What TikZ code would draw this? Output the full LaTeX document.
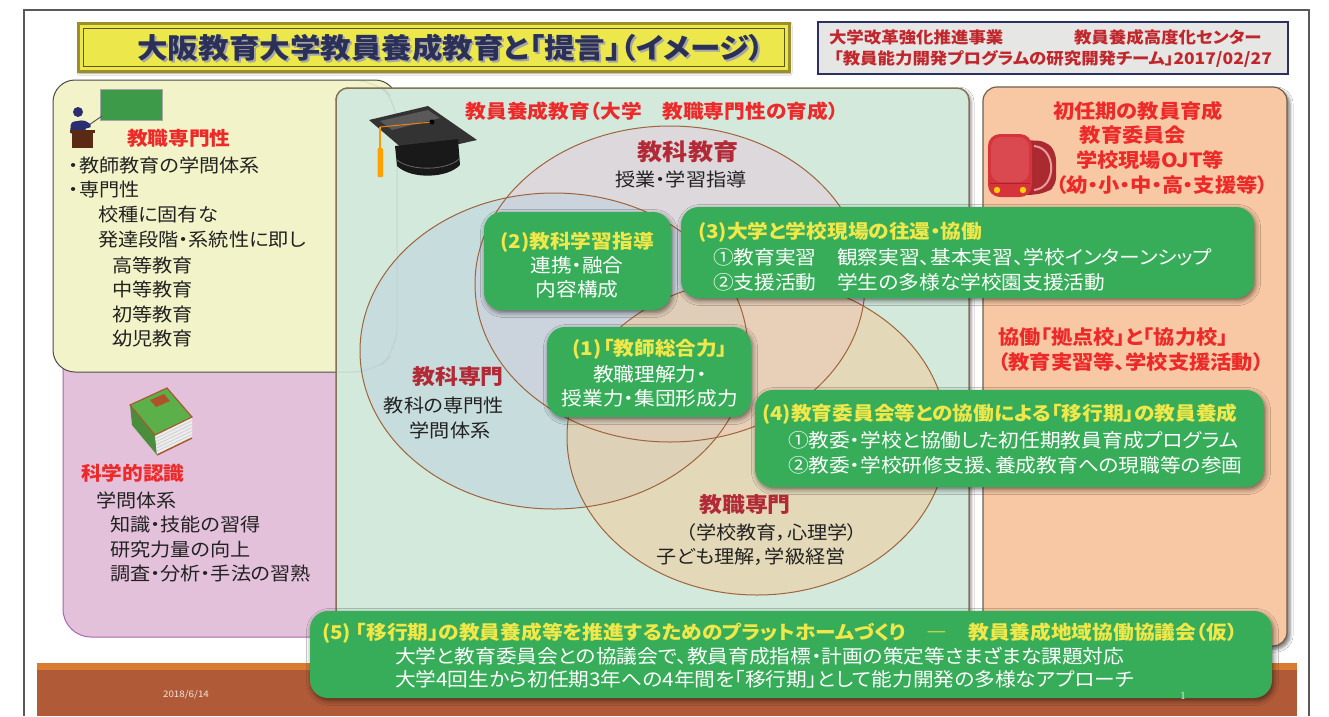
\documentclass[tikz,border=0pt]{standalone}
\usepackage{fontspec}
\usetikzlibrary{shadows.blur}
\newfontfamily\jp[RawFeature=+palt, FakeStretch=1.09]{Noto Sans CJK JP}
\newcommand\fsz[1]{\fontsize{#1}{#1}\selectfont}

\definecolor{pagebrown}{HTML}{B05A38}
\definecolor{pageorange}{HTML}{D97B30}
\definecolor{titleyellow}{HTML}{ECE84C}
\definecolor{titleedge}{HTML}{9C8E2A}
\definecolor{titletext}{HTML}{2B3058}
\definecolor{noteedge}{HTML}{2A3060}
\definecolor{notefill}{HTML}{E6E6E4}
\definecolor{notered}{HTML}{C0272D}
\definecolor{creamfill}{HTML}{F3F3C9}
\definecolor{pinkfill}{HTML}{E3C1DB}
\definecolor{pinkedge}{HTML}{A868B0}
\definecolor{mintfill}{HTML}{D3E9DC}
\definecolor{mintedge}{HTML}{857357}
\definecolor{peachfill}{HTML}{F8C8A4}
\definecolor{peachedge}{HTML}{6E6050}
\definecolor{hotred}{HTML}{EC2A2A}
\definecolor{darkred}{HTML}{B22A36}
\definecolor{boxgreen}{HTML}{37AD5A}
\definecolor{boxyellow}{HTML}{F0E84A}
\definecolor{inkblack}{HTML}{222222}
\definecolor{venna}{RGB}{230,200,220}
\definecolor{vennb}{RGB}{188,208,220}
\definecolor{vennc}{RGB}{244,200,148}
\definecolor{vennedge}{HTML}{A0643C}
\definecolor{navyman}{HTML}{2A2E70}
\definecolor{podium}{HTML}{5A2A14}
\definecolor{boardgreen}{HTML}{3C9A48}
\definecolor{bagred}{HTML}{D6343C}
\definecolor{bookgreen}{HTML}{5CB04A}
\definecolor{bookedge}{HTML}{A65A30}

\tikzset{
  every node/.style={inner sep=0pt, outer sep=0pt},
  bodytext/.style={font=\jp\fsz{18.5}, text=inkblack},
  redhead/.style={font=\jp\bfseries\fsz{19}, text=hotred},
  vennhead/.style={font=\jp\bfseries\fsz{21}, text=darkred},
  sidered/.style={font=\jp\bfseries\fsz{19.5}, text=hotred},
  boxtitle/.style={font=\jp\bfseries\fsz{19}, text=boxyellow},
  boxline/.style={font=\jp\fsz{19}, text=white},
  greenbox/.style={fill=boxgreen, rounded corners=18pt,
    blur shadow={shadow xshift=1.5pt, shadow yshift=-2.5pt,
                 shadow blur radius=5pt, shadow opacity=55}},
  venn/.style={fill opacity=0.5},
  vennline/.style={draw=vennedge, line width=1},
}

\begin{document}
\begin{tikzpicture}[x=1pt, y=-1pt]
\useasboundingbox (0,0) rectangle (1329,716);
\fill[white] (0,0) rectangle (1329,716);

% slide frame and footer band
\draw[gray!70!black, line width=1.2] (24,716) -- (24,10) -- (1309,10) -- (1309,716);
\fill[pageorange] (37,663) rectangle (1297,670);
\fill[pagebrown] (37,670) rectangle (1297,716);
\node[font=\jp\fsz{9}, text=white!85!pagebrown] (date) at (186,695) {2018/6/14};

% title banner
\draw[titleedge, line width=3, fill=titleyellow,
      blur shadow={shadow xshift=1pt, shadow yshift=-2pt, shadow blur radius=2pt, shadow opacity=40}]
  (78,23) rectangle (789,71);
\draw[titleedge!60!black, line width=0.8] (83,28) rectangle (784,66);
\node[font=\jp\bfseries\fsz{28}, text=black!35] (titleshade) at (453,49.5)
  {大阪教育大学教員養成教育と「提言」（イメージ）};
\node[font=\jp\bfseries\fsz{28}, text=titletext] (title) at (451,47.5)
  {大阪教育大学教員養成教育と「提言」（イメージ）};

% project note
\draw[noteedge, line width=1.5, fill=notefill] (818,22) rectangle (1288,74);
\node[font=\jp\bfseries\fsz{16}, text=notered, anchor=west] (notea) at (829,37) {大学改革強化推進事業};
\node[font=\jp\bfseries\fsz{16}, text=notered, anchor=west] (noteb) at (1074,37) {教員養成高度化センター};
\node[font=\jp\bfseries\fsz{16}, text=notered, anchor=west] (notec) at (834,59) {「教員能力開発プログラムの研究開発チーム」2017/02/27};

% left panels
\draw[pinkedge, line width=1, fill=pinkfill, rounded corners=28] (63,300) rectangle (345,637);
\draw[gray!60!black, line width=1, fill=creamfill, rounded corners=22] (53,80) rectangle (397,372);

% centre panel
\draw[mintedge, line width=1.5, fill=mintfill, rounded corners=12,
      blur shadow={shadow xshift=2pt, shadow yshift=-2pt, shadow blur radius=3pt, shadow opacity=45}]
  (336,88) rectangle (969,640);
\draw[gray, opacity=0.18, line width=1, rounded corners=22] (336,80) -- (375,80) -- (397,102) -- (397,350) -- (375,372) -- (336,372);

% right panel
\draw[peachedge, line width=1.2, fill=peachfill, rounded corners=14,
      blur shadow={shadow xshift=3pt, shadow yshift=-3pt, shadow blur radius=3pt, shadow opacity=50}]
  (983,87) rectangle (1287,646);

% three overlapping areas
\fill[venna, venn] (670,284) ellipse [x radius=195, y radius=158];
\fill[vennb, venn] (554,351) ellipse [x radius=194, y radius=158];
\fill[vennc, venn] (757,437) ellipse [x radius=190, y radius=158];
\draw[vennline] (670,284) ellipse [x radius=195, y radius=158];
\draw[vennline] (554,351) ellipse [x radius=194, y radius=158];
\draw[vennline] (757,437) ellipse [x radius=190, y radius=158];

% teacher at the blackboard
\draw[gray!70, line width=1, fill=boardgreen] (100,89) rectangle (162,120);
\draw[gray!70!black, line width=1] (86,127) -- (102,116);
\fill[navyman] (78,112) circle (5);
\fill[navyman, rounded corners=3] (70,134) -- (71,122) -- (84,120) -- (92,125) -- (89,129) -- (85,127) -- (86,134) -- cycle;
\fill[podium] (70,130) rectangle (95,133);
\fill[podium] (72,133) rectangle (93,148);

% mortarboard
\fill[black!80] (369,120) -- (428,106) -- (477,140) -- (410,155) -- cycle;
\fill[black!55, opacity=0.6] (380,121) -- (428,110) -- (440,118) -- (392,130) -- cycle;
\fill[black!90] (395,146) -- (397,166) .. controls (412,180) and (448,178) .. (460,165) -- (458,139) -- cycle;
\draw[black!60, line width=0.8] (397,160) .. controls (412,172) and (448,170) .. (459,159);
\draw[orange!70!brown, line width=1] (380,127) -- (432,122);
\fill[black] (432,122) circle (2.5);
\draw[orange!80!yellow, line width=1.3] (380,127) -- (380,150);
\fill[orange!75!yellow, rounded corners=1] (377.5,148) rectangle (383,177);

% book
\fill[bookgreen!80!black] (130,405) -- (155,435) -- (157,455) -- (132,425) -- cycle;
\fill[gray!15] (155,435) -- (192,417) -- (192,438) -- (157,455) -- cycle;
\foreach \k in {1,...,5} \draw[gray!50, line width=0.4] (156,{435+3.3*\k}) -- (192,{417+3.5*\k});
\draw[bookedge, line width=1.2, fill=bookgreen] (130,405) -- (167,388) -- (192,417) -- (155,435) -- cycle;
\draw[bookedge, line width=1.5] (157,455) -- (192,438);
\fill[bookedge!90!red] (150,400) -- (164,394) -- (170,401) -- (156,407) -- cycle;

% school bag (randoseru)
\fill[bagred!80!black, rounded corners=8] (1020,140) -- (1046,141) -- (1056,152) -- (1056,186) -- (1046,193) -- (1022,196) -- cycle;
\draw[bagred!50!white, line width=2] (1034,146) .. controls (1057,148) and (1057,188) .. (1034,190);
\fill[bagred, rounded corners=12] (988,134) rectangle (1032,197);
\fill[bagred!90!white, rounded corners=10] (991,137) -- (1029,137) -- (1029,182) -- (991,182) -- cycle;
\draw[bagred!75!black, line width=0.8] (990,183) -- (1030,183);
\fill[yellow!70!orange] (997,190) circle (3.2);
\fill[yellow!70!orange] (1023,190) circle (3.2);

% left panel text
\node[redhead, anchor=west] (kyoshoku) at (127,138) {教職専門性};
\node[bodytext, anchor=west] (l1) at (69,165) {・教師教育の学問体系};
\node[bodytext, anchor=west] (l2) at (69,189) {・専門性};
\node[bodytext, anchor=west] (l3) at (98,214) {校種に固有な};
\node[bodytext, anchor=west] (l4) at (98,240) {発達段階・系統性に即し};
\node[bodytext, anchor=west] (l5) at (112,265) {高等教育};
\node[bodytext, anchor=west] (l6) at (112,289) {中等教育};
\node[bodytext, anchor=west] (l7) at (112,314) {初等教育};
\node[bodytext, anchor=west] (l8) at (112,338) {幼児教育};

\node[redhead, anchor=west] (kagaku) at (81,473) {科学的認識};
\node[bodytext, anchor=west] (p1) at (96,500) {学問体系};
\node[bodytext, anchor=west] (p2) at (110,524) {知識・技能の習得};
\node[bodytext, anchor=west] (p3) at (110,549) {研究力量の向上};
\node[bodytext, anchor=west] (p4) at (110,574) {調査・分析・手法の習熟};

% centre panel text
\node[font=\jp\bfseries\fsz{19}, text=hotred] (centretitle) at (652,111) {教員養成教育（大学　教職専門性の育成）};
\node[font=\jp\bfseries\fsz{23}, text=darkred] (kyoka) at (688,152) {教科教育};
\node[bodytext] (kyokasub) at (681,179) {授業・学習指導};
\node[vennhead] (senmon) at (458,377) {教科専門};
\node[bodytext] (senmona) at (444,405) {教科の専門性};
\node[bodytext] (senmonb) at (450,430) {学問体系};
\node[vennhead] (shoku) at (745,505) {教職専門};
\node[bodytext] (shokua) at (772,533) {（学校教育，心理学）};
\node[bodytext] (shokub) at (751,557) {子ども理解，学級経営};

% right panel text
\node[sidered] (r1) at (1138,111) {初任期の教員育成};
\node[sidered] (r2) at (1133,135) {教育委員会};
\node[sidered] (r3) at (1150,160) {学校現場OJT等};
\node[sidered] (r4) at (1162,185) {（幼・小・中・高・支援等）};
\node[sidered, anchor=west] (r5) at (998,337) {協働「拠点校」と「協力校」};
\node[sidered, anchor=west] (r6) at (998,362) {（教育実習等、学校支援活動）};

% green proposal boxes
\node[greenbox, minimum width=187, minimum height=98] (box2) at (577.5,261) {};
\node[boxtitle] (box2t) at (577,242) {(2)教科学習指導};
\node[boxline] (box2a) at (577,265) {連携・融合};
\node[boxline] (box2b) at (577,289) {内容構成};

\node[greenbox, minimum width=573, minimum height=91] (box3) at (967.5,252.5) {};
\node[boxtitle, anchor=west] (box3t) at (698,232) {(3)大学と学校現場の往還・協働};
\node[boxline, anchor=west] (box3a) at (713,257) {①教育実習　観察実習、基本実習、学校インターンシップ};
\node[boxline, anchor=west] (box3b) at (713,282) {②支援活動　学生の多様な学校園支援活動};

\node[greenbox, minimum width=204, minimum height=90] (box1) at (649,372) {};
\node[boxtitle] (box1t) at (650,349) {(1)\kern1.5pt「教師総合力」};
\node[boxline] (box1a) at (650,374) {教職理解力・};
\node[boxline] (box1b) at (650,398) {授業力・集団形成力};

\node[greenbox, minimum width=509, minimum height=97] (box4) at (1009.5,438.5) {};
\node[boxtitle, anchor=west] (box4t) at (762,414) {(4)教育委員会等との協働による「移行期」の教員養成};
\node[boxline, anchor=west] (box4a) at (788,440) {①教委・学校と協働した初任期教員育成プログラム};
\node[boxline, anchor=west] (box4b) at (788,465) {②教委・学校研修支援、養成教育への現職等の参画};

\node[greenbox, minimum width=962, minimum height=87] (box5) at (791,654.5) {};
\node[boxtitle, anchor=west] (box5t) at (322,633) {(5) 「移行期」の教員養成等を推進するためのプラットホームづくり　―　教員養成地域協働協議会（仮）};
\node[boxline, anchor=west] (box5a) at (395,656) {大学と教育委員会との協議会で、教員育成指標・計画の策定等さまざまな課題対応};
\node[boxline, anchor=west] (box5b) at (395,679) {大学4回生から初任期3年への4年間を「移行期」として能力開発の多様なアプローチ};
\node[font=\fsz{11}, text=white] (pageno) at (1183,696) {1};
\end{tikzpicture}
\end{document}
